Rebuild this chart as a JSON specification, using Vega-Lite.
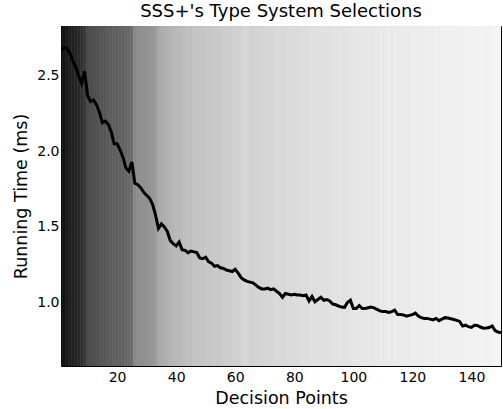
{
"$schema": "https://vega.github.io/schema/vega-lite/v6.json",
"width": 440, "height": 340,
"autosize": {"type": "none"},
"padding": {"left": 61, "top": 26, "right": 2, "bottom": 43},
"background": "white",
"title": {"text": "SSS+'s Type System Selections", "fontSize": 18, "font": "DejaVu Sans", "fontWeight": "normal", "color": "black", "offset": 5, "anchor": "middle"},
"config": {
 "view": {"stroke": null},
 "axis": {"grid": false, "domainColor": "black", "domainWidth": 1, "tickColor": "black", "tickSize": -5, "labelPadding": 9, "labelColor": "black", "labelFont": "DejaVu Sans", "labelFontSize": 14, "titleFont": "DejaVu Sans", "titleFontSize": 17.5, "titleFontWeight": "normal", "titleColor": "black"}
},
"data": {"values": [
{"d":1,"time":2.67,"shade":0.05},{"d":2,"time":2.69,"shade":0.08},{"d":3,"time":2.68,"shade":0.10},{"d":4,"time":2.65,"shade":0.12},{"d":5,"time":2.60,"shade":0.13},
{"d":6,"time":2.56,"shade":0.14},{"d":7,"time":2.50,"shade":0.16},{"d":8,"time":2.45,"shade":0.19},{"d":9,"time":2.53,"shade":0.22},{"d":10,"time":2.37,"shade":0.29},
{"d":11,"time":2.33,"shade":0.30},{"d":12,"time":2.34,"shade":0.31},{"d":13,"time":2.31,"shade":0.32},{"d":14,"time":2.26,"shade":0.33},{"d":15,"time":2.19,"shade":0.33},
{"d":16,"time":2.20,"shade":0.34},{"d":17,"time":2.18,"shade":0.35},{"d":18,"time":2.13,"shade":0.36},{"d":19,"time":2.05,"shade":0.37},{"d":20,"time":2.05,"shade":0.37},
{"d":21,"time":2.01,"shade":0.38},{"d":22,"time":1.96,"shade":0.39},{"d":23,"time":1.89,"shade":0.40},{"d":24,"time":1.87,"shade":0.41},{"d":25,"time":1.93,"shade":0.42},
{"d":26,"time":1.79,"shade":0.54},{"d":27,"time":1.78,"shade":0.55},{"d":28,"time":1.76,"shade":0.56},{"d":29,"time":1.73,"shade":0.56},{"d":30,"time":1.71,"shade":0.57},
{"d":31,"time":1.69,"shade":0.58},{"d":32,"time":1.65,"shade":0.59},{"d":33,"time":1.58,"shade":0.60},{"d":34,"time":1.49,"shade":0.66},{"d":35,"time":1.52,"shade":0.67},
{"d":36,"time":1.50,"shade":0.68},{"d":37,"time":1.47,"shade":0.69},{"d":38,"time":1.41,"shade":0.70},{"d":39,"time":1.39,"shade":0.71},{"d":40,"time":1.375,"shade":0.72},
{"d":41,"time":1.40,"shade":0.72},{"d":42,"time":1.35,"shade":0.73},{"d":43,"time":1.345,"shade":0.74},{"d":44,"time":1.33,"shade":0.75},{"d":45,"time":1.34,"shade":0.75},
{"d":46,"time":1.335,"shade":0.76},{"d":47,"time":1.33,"shade":0.76},{"d":48,"time":1.295,"shade":0.77},{"d":49,"time":1.29,"shade":0.77},{"d":50,"time":1.30,"shade":0.78},
{"d":51,"time":1.27,"shade":0.78},{"d":52,"time":1.26,"shade":0.78},{"d":53,"time":1.24,"shade":0.79},{"d":54,"time":1.245,"shade":0.79},{"d":55,"time":1.23,"shade":0.79},
{"d":56,"time":1.225,"shade":0.80},{"d":57,"time":1.215,"shade":0.80},{"d":58,"time":1.21,"shade":0.80},{"d":59,"time":1.205,"shade":0.81},{"d":60,"time":1.22,"shade":0.81},
{"d":61,"time":1.195,"shade":0.81},{"d":62,"time":1.165,"shade":0.82},{"d":63,"time":1.15,"shade":0.84},{"d":64,"time":1.14,"shade":0.84},{"d":65,"time":1.135,"shade":0.82},
{"d":66,"time":1.13,"shade":0.82},{"d":67,"time":1.115,"shade":0.83},{"d":68,"time":1.10,"shade":0.83},{"d":69,"time":1.09,"shade":0.83},{"d":70,"time":1.09,"shade":0.84},
{"d":71,"time":1.095,"shade":0.84},{"d":72,"time":1.085,"shade":0.84},{"d":73,"time":1.09,"shade":0.84},{"d":74,"time":1.075,"shade":0.85},{"d":75,"time":1.06,"shade":0.85},
{"d":76,"time":1.035,"shade":0.85},{"d":77,"time":1.06,"shade":0.85},{"d":78,"time":1.055,"shade":0.86},{"d":79,"time":1.05,"shade":0.86},{"d":80,"time":1.055,"shade":0.86},
{"d":81,"time":1.05,"shade":0.86},{"d":82,"time":1.05,"shade":0.86},{"d":83,"time":1.045,"shade":0.87},{"d":84,"time":1.05,"shade":0.87},{"d":85,"time":1.01,"shade":0.87},
{"d":86,"time":1.04,"shade":0.88},{"d":87,"time":1.005,"shade":0.87},{"d":88,"time":1.02,"shade":0.87},{"d":89,"time":1.035,"shade":0.88},{"d":90,"time":1.015,"shade":0.88},
{"d":91,"time":1.02,"shade":0.88},{"d":92,"time":1.01,"shade":0.88},{"d":93,"time":0.99,"shade":0.89},{"d":94,"time":0.985,"shade":0.89},{"d":95,"time":0.977,"shade":0.89},
{"d":96,"time":0.97,"shade":0.89},{"d":97,"time":0.968,"shade":0.89},{"d":98,"time":1.0,"shade":0.89},{"d":99,"time":1.015,"shade":0.89},{"d":100,"time":0.96,"shade":0.90},
{"d":101,"time":0.96,"shade":0.90},{"d":102,"time":0.98,"shade":0.90},{"d":103,"time":0.96,"shade":0.90},{"d":104,"time":0.96,"shade":0.90},{"d":105,"time":0.965,"shade":0.91},
{"d":106,"time":0.97,"shade":0.90},{"d":107,"time":0.965,"shade":0.91},{"d":108,"time":0.955,"shade":0.91},{"d":109,"time":0.945,"shade":0.91},{"d":110,"time":0.94,"shade":0.91},
{"d":111,"time":0.94,"shade":0.91},{"d":112,"time":0.935,"shade":0.92},{"d":113,"time":0.94,"shade":0.91},{"d":114,"time":0.95,"shade":0.92},{"d":115,"time":0.92,"shade":0.92},
{"d":116,"time":0.92,"shade":0.92},{"d":117,"time":0.918,"shade":0.92},{"d":118,"time":0.91,"shade":0.92},{"d":119,"time":0.915,"shade":0.92},{"d":120,"time":0.92,"shade":0.93},
{"d":121,"time":0.93,"shade":0.93},{"d":122,"time":0.91,"shade":0.93},{"d":123,"time":0.90,"shade":0.93},{"d":124,"time":0.895,"shade":0.93},{"d":125,"time":0.895,"shade":0.93},
{"d":126,"time":0.89,"shade":0.93},{"d":127,"time":0.885,"shade":0.93},{"d":128,"time":0.895,"shade":0.94},{"d":129,"time":0.88,"shade":0.93},{"d":130,"time":0.89,"shade":0.94},
{"d":131,"time":0.90,"shade":0.94},{"d":132,"time":0.897,"shade":0.94},{"d":133,"time":0.893,"shade":0.94},{"d":134,"time":0.888,"shade":0.94},{"d":135,"time":0.882,"shade":0.94},
{"d":136,"time":0.875,"shade":0.94},{"d":137,"time":0.845,"shade":0.95},{"d":138,"time":0.85,"shade":0.94},{"d":139,"time":0.84,"shade":0.95},{"d":140,"time":0.835,"shade":0.95},
{"d":141,"time":0.85,"shade":0.95},{"d":142,"time":0.848,"shade":0.95},{"d":143,"time":0.838,"shade":0.95},{"d":144,"time":0.83,"shade":0.95},{"d":145,"time":0.832,"shade":0.95},
{"d":146,"time":0.835,"shade":0.95},{"d":147,"time":0.845,"shade":0.95},{"d":148,"time":0.815,"shade":0.96},{"d":149,"time":0.805,"shade":0.96},{"d":150,"time":0.80,"shade":0.96}
]},
"layer": [
 {
  "transform": [{"calculate": "datum.d - 0.5", "as": "d0"}, {"calculate": "datum.d + 0.5", "as": "d1"}],
  "mark": {"type": "rect", "clip": true, "strokeWidth": 0.6},
  "encoding": {
   "x": {"field": "d0", "type": "quantitative", "scale": {"domain": [1, 150], "nice": false, "zero": false}, "axis": {"orient": "top", "labels": false, "title": null, "values": [20, 40, 60, 80, 100, 120, 140]}},
   "x2": {"field": "d1"},
   "y": {"datum": 0.58, "type": "quantitative", "scale": {"domain": [0.58, 2.83], "nice": false, "zero": false}, "axis": {"orient": "right", "labels": false, "title": null, "values": [1.0, 1.5, 2.0, 2.5]}},
   "y2": {"datum": 2.83},
   "color": {"field": "shade", "type": "quantitative", "scale": {"domain": [0, 1], "range": ["#000000", "#ffffff"], "interpolate": "rgb"}, "legend": null},
   "stroke": {"field": "shade", "type": "quantitative", "scale": {"domain": [0, 1], "range": ["#000000", "#ffffff"], "interpolate": "rgb"}, "legend": null}
  }
 },
 {
  "mark": {"type": "line", "color": "black", "strokeWidth": 3, "clip": true},
  "encoding": {
   "x": {"field": "d", "type": "quantitative", "axis": {"orient": "bottom", "title": "Decision Points", "values": [20, 40, 60, 80, 100, 120, 140], "titlePadding": 5}},
   "y": {"field": "time", "type": "quantitative", "axis": {"orient": "left", "title": "Running Time (ms)", "values": [1.0, 1.5, 2.0, 2.5], "format": ".1f", "labelPadding": 7, "titlePadding": 6}}
  }
 }
],
"resolve": {"axis": {"x": "independent", "y": "independent"}}
}
